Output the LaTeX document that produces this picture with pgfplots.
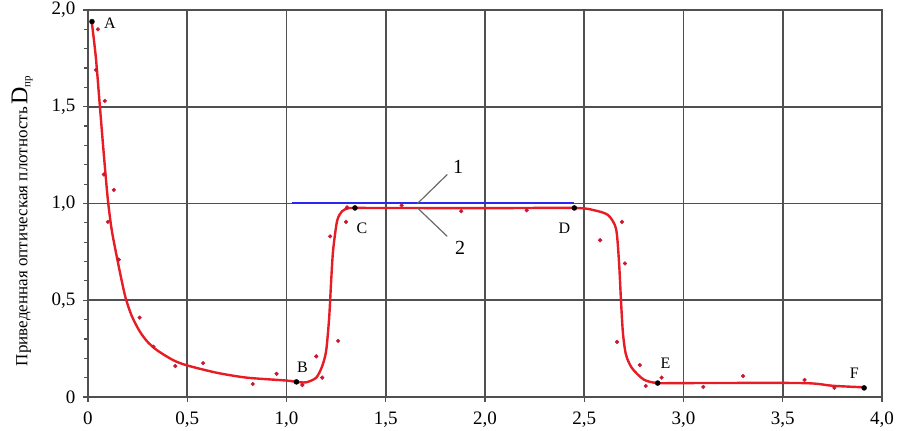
\documentclass[border=0pt]{standalone}
\usepackage{pgfplots}
\pgfplotsset{compat=1.18}
\usepackage{fontspec}
\setmainfont{Liberation Serif}

\definecolor{gridc}{RGB}{80,80,80}
\definecolor{curvered}{RGB}{232,28,36}
\definecolor{dotred}{RGB}{200,25,50}
\definecolor{blueone}{RGB}{40,40,240}

\begin{document}
\begin{tikzpicture}[x=1pt,y=1pt]
\begin{axis}[
    at={(0,0)}, anchor=south west,
    scale only axis, width=794pt, height=387pt,
    xmin=0, xmax=4, ymin=0, ymax=2,
    xtick={0,0.5,1,1.5,2,2.5,3,3.5,4},
    xticklabels={0,{0,5},{1,0},{1,5},{2,0},{2,5},{3,0},{3,5},{4,0}},
    ytick={0,0.5,1,1.5,2},
    yticklabels={0,{0,5},{1,0},{1,5},{2,0}},
    minor ytick={0.1,0.2,0.3,0.4,0.6,0.7,0.8,0.9,1.1,1.2,1.3,1.4,1.6,1.7,1.8,1.9},
    xtick pos=left, ytick pos=left,
    tick align=outside,
    major tick length=5pt, minor tick length=4pt,
    grid=major,
    major grid style={gridc, line width=1.6pt},
    axis line style={gridc, line width=1.6pt},
    tick style={gridc, line width=1.2pt},
    ticklabel style={font=\fontsize{19}{19}\selectfont},
    xticklabel style={yshift=-6pt},
    yticklabel style={xshift=-4pt},
    ylabel={{\fontsize{17}{17}\selectfont Приведенная оптическая плотность} {\fontsize{24}{24}\selectfont D}\raisebox{-3pt}{\fontsize{11}{11}\selectfont пр}},
    ylabel style={at={(axis description cs:-0.083,0.455)}, anchor=center},
    clip=false,
]

% curve 2 (smoothed)
\addplot[curvered, line width=2.4pt, smooth, tension=0.45] coordinates {
 (0.02,1.93) (0.04,1.75) (0.06,1.50) (0.08,1.25) (0.10,1.02) (0.12,0.86)
 (0.15,0.70) (0.17,0.60) (0.19,0.51) (0.22,0.42) (0.26,0.34) (0.30,0.285)
 (0.35,0.24) (0.43,0.19) (0.50,0.163) (0.65,0.125) (0.80,0.10) (1.00,0.085)
 (1.05,0.078) (1.10,0.076) (1.15,0.10) (1.18,0.16) (1.20,0.24) (1.215,0.41)
 (1.225,0.60) (1.235,0.76) (1.255,0.91) (1.28,0.96) (1.31,0.975) (1.345,0.977)
 (2.0,0.976) (2.45,0.977) (2.55,0.965) (2.62,0.94) (2.66,0.87) (2.675,0.70)
 (2.685,0.50) (2.695,0.33) (2.71,0.22) (2.74,0.15) (2.80,0.09) (2.87,0.072)
 (3.0,0.072) (3.6,0.072) (3.75,0.058) (3.91,0.05)
};

% measured points
\addplot[only marks, mark=*, mark size=1.9pt, dotred] coordinates {
 (0.05,1.90) (0.04,1.69) (0.085,1.53) (0.08,1.15) (0.13,1.07)
 (0.10,0.905) (0.155,0.71) (0.26,0.41) (0.33,0.26) (0.44,0.16)
 (0.58,0.175) (0.83,0.067) (0.95,0.12) (1.08,0.062) (1.15,0.21)
 (1.18,0.10) (1.26,0.29) (1.22,0.83) (1.30,0.905) (1.305,0.98)
 (1.58,0.99) (1.88,0.96) (2.21,0.965) (2.69,0.905) (2.58,0.81)
 (2.705,0.69) (2.665,0.285) (2.78,0.165) (2.81,0.057) (2.89,0.10)
 (3.10,0.052) (3.30,0.108) (3.61,0.088) (3.76,0.047)
};

% line 1
\addplot[draw=blueone, line width=2.2pt, mark=none] coordinates {(1.03,1.003) (2.45,1.003)};

% key points A-F
\addplot[only marks, mark=*, mark size=2.5pt, black] coordinates {
 (0.02,1.94) (1.05,0.078) (1.345,0.977) (2.45,0.977) (2.87,0.072) (3.91,0.047)
};

\node[font=\fontsize{16}{16}\selectfont] at (axis cs:0.11,1.93) {A};
\node[font=\fontsize{16}{16}\selectfont] at (axis cs:1.08,0.155) {B};
\node[font=\fontsize{16}{16}\selectfont] at (axis cs:1.38,0.87) {C};
\node[font=\fontsize{16}{16}\selectfont] at (axis cs:2.40,0.87) {D};
\node[font=\fontsize{16}{16}\selectfont] at (axis cs:2.91,0.175) {E};
\node[font=\fontsize{16}{16}\selectfont] at (axis cs:3.86,0.125) {F};

\draw[gridc!85, line width=1.2pt] (axis cs:1.66,1.0) -- (axis cs:1.81,1.15);
\draw[gridc!85, line width=1.2pt] (axis cs:1.66,0.977) -- (axis cs:1.81,0.83);
\node[font=\fontsize{20}{20}\selectfont] at (axis cs:1.865,1.19) {1};
\node[font=\fontsize{20}{20}\selectfont] at (axis cs:1.875,0.77) {2};
\end{axis}
\pgfresetboundingbox
\path[use as bounding box] (-88,-34) rectangle (810,397);
\end{tikzpicture}
\end{document}
